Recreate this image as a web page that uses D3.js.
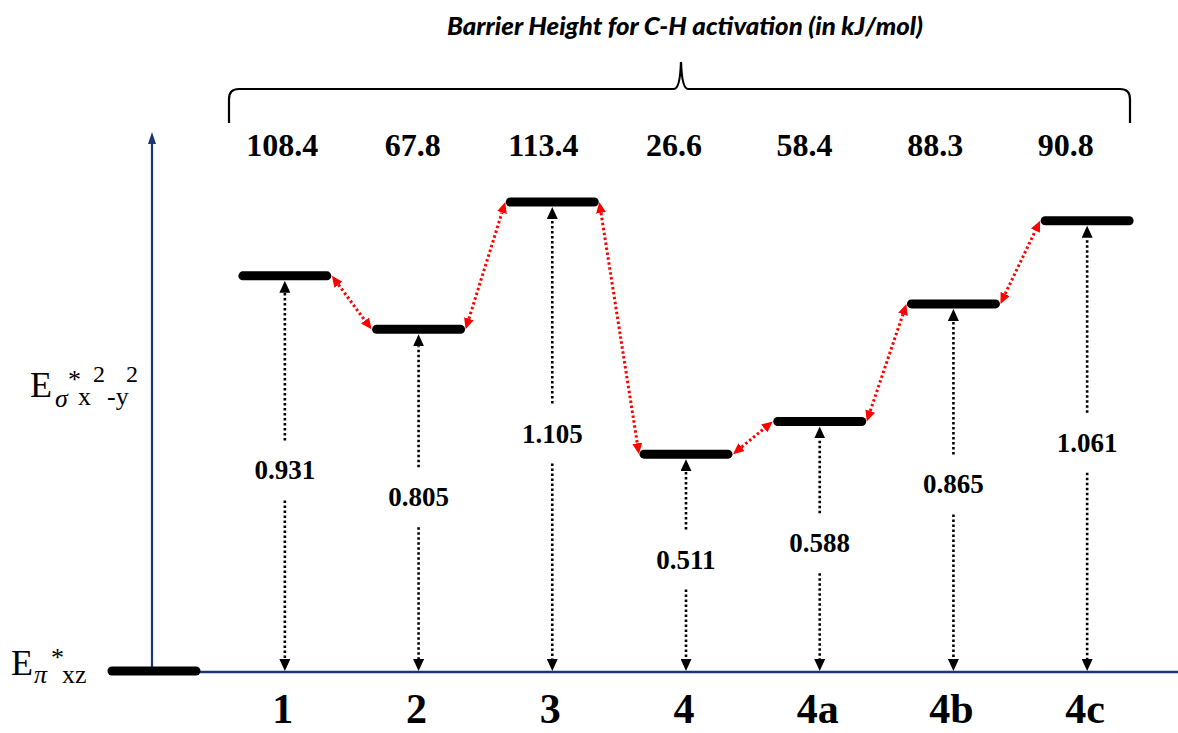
<!DOCTYPE html>
<meta charset="utf-8">
<style>
    body { margin: 0; background: #fff; }
    .num { font-family: "Liberation Serif", "Times New Roman", serif; font-weight: bold; fill: #000; }
</style>
<body>
    <svg width="1178" height="733"></svg>
</body>
<script src="https://cdnjs.cloudflare.com/ajax/libs/d3/7.8.5/d3.min.js"></script>
<script>

    // data
    var compounds = ["1", "2", "3", "4", "4a", "4b", "4c"];
    var gapValues = [0.931, 0.805, 1.105, 0.511, 0.588, 0.865, 1.061];
    var barrierValues = [108.4, 67.8, 113.4, 26.6, 58.4, 88.3, 90.8];
    var titleText = "Barrier Height for C-H activation (in kJ/mol)";

    var svg = d3.select("svg"),
        width = +svg.attr("width"),
        height = +svg.attr("height");

    var navy = "#1b3576";
    var baseY = 671;
    var halfBar = 42;

    // scales
    var x = d3.scaleBand().domain(compounds).range([218, 1154]);
    var xBarrier = d3.scaleBand().domain(compounds).range([217, 1131]);
    var y = d3.scaleLinear().domain([0, 1.27]).range([baseY, 132]);

    var levels = compounds.map(function(c, i) {
        return { name: c, gap: gapValues[i], barrier: barrierValues[i],
                 cx: x(c) + x.bandwidth() / 2, cy: y(gapValues[i]) };
    });

    // arrow markers
    var defs = svg.append("defs");
    function addMarker(id, color, w, l) {
        defs.append("marker")
            .attr("id", id)
            .attr("markerUnits", "userSpaceOnUse")
            .attr("viewBox", "0 0 " + l + " " + w)
            .attr("refX", 0)
            .attr("refY", w / 2)
            .attr("markerWidth", l)
            .attr("markerHeight", w)
            .attr("orient", "auto-start-reverse")
            .append("path")
            .attr("d", "M0,0 L" + l + "," + (w / 2) + " L0," + w + " Z")
            .attr("fill", color);
    }
    addMarker("headBlack", "#000", 11, 12);
    addMarker("headRed", "#ff0000", 10, 11);
    addMarker("headNavy", navy, 8, 12);

    // title + brace
    svg.append("text")
        .attr("x", 685)
        .attr("y", 35)
        .attr("text-anchor", "middle")
        .attr("font-family", "Lato, 'Open Sans', sans-serif")
        .attr("font-style", "italic")
        .attr("font-weight", 900)
        .attr("font-size", 24)
        .attr("textLength", 476)
        .attr("lengthAdjust", "spacingAndGlyphs")
        .text(titleText);

    var bl = 229, br = 1130, bTop = 89, bBot = 123, mid = 681;
    svg.append("path")
        .attr("d", "M" + bl + "," + bBot + " L" + bl + "," + (bTop + 10) +
            " Q" + bl + "," + bTop + " " + (bl + 10) + "," + bTop +
            " L" + (mid - 7) + "," + bTop +
            " Q" + (mid - 1) + "," + bTop + " " + mid + "," + 62 +
            " Q" + (mid + 1) + "," + bTop + " " + (mid + 7) + "," + bTop +
            " L" + (br - 10) + "," + bTop +
            " Q" + br + "," + bTop + " " + br + "," + (bTop + 10) +
            " L" + br + "," + bBot)
        .attr("fill", "none")
        .attr("stroke", "#000")
        .attr("stroke-width", 2.2);

    // barrier heights
    svg.append("g").selectAll("text")
        .data(levels)
        .enter().append("text")
        .attr("class", "num")
        .attr("x", function(d) { return xBarrier(d.name) + xBarrier.bandwidth() / 2; })
        .attr("y", 156)
        .attr("text-anchor", "middle")
        .attr("font-size", 32)
        .text(function(d) { return d3.format(".1f")(d.barrier); });

    // vertical axis with arrow, baseline
    svg.append("line")
        .attr("x1", 152).attr("x2", 152)
        .attr("y1", baseY).attr("y2", 144)
        .attr("stroke", navy).attr("stroke-width", 2.2)
        .attr("marker-end", "url(#headNavy)");

    svg.append("line")
        .attr("x1", 200).attr("x2", width)
        .attr("y1", baseY + 1).attr("y2", baseY + 1)
        .attr("stroke", navy).attr("stroke-width", 2.4);

    svg.append("line")
        .attr("x1", 112).attr("x2", 196)
        .attr("y1", baseY).attr("y2", baseY)
        .attr("stroke", "#000").attr("stroke-width", 9)
        .attr("stroke-linecap", "round");

    // axis labels
    var serif = "'Liberation Serif', 'Times New Roman', serif";
    var lab1 = svg.append("text").attr("font-family", serif).attr("fill", "#000");
    lab1.append("tspan").attr("x", 30).attr("y", 397).attr("font-size", 36).text("E");
    lab1.append("tspan").attr("x", 55).attr("y", 407).attr("font-size", 26).attr("font-style", "italic").text("σ");
    lab1.append("tspan").attr("x", 68).attr("y", 388).attr("font-size", 26).text("*");
    lab1.append("tspan").attr("x", 78).attr("y", 405).attr("font-size", 26).text("x");
    lab1.append("tspan").attr("x", 93).attr("y", 382).attr("font-size", 24).text("2");
    lab1.append("tspan").attr("x", 107).attr("y", 405).attr("font-size", 26).text("-y");
    lab1.append("tspan").attr("x", 126).attr("y", 382).attr("font-size", 24).text("2");

    var lab2 = svg.append("text").attr("font-family", serif).attr("fill", "#000");
    lab2.append("tspan").attr("x", 11).attr("y", 675).attr("font-size", 36).text("E");
    lab2.append("tspan").attr("x", 34).attr("y", 683).attr("font-size", 26).attr("font-style", "italic").text("π");
    lab2.append("tspan").attr("x", 51).attr("y", 666).attr("font-size", 26).text("*");
    lab2.append("tspan").attr("x", 62).attr("y", 683).attr("font-size", 26).text("xz");

    // red dotted connectors between neighbouring levels
    var pairs = d3.pairs(levels);
    svg.append("g").selectAll("line")
        .data(pairs)
        .enter().append("line")
        .each(function(p) {
            var x1 = p[0].cx + halfBar + 5, y1 = p[0].cy,
                x2 = p[1].cx - halfBar - 5, y2 = p[1].cy;
            var dx = x2 - x1, dy = y2 - y1, len = Math.sqrt(dx * dx + dy * dy);
            var ux = dx / len, uy = dy / len, a = 11;
            d3.select(this)
                .attr("x1", x1 + ux * a).attr("y1", y1 + uy * a)
                .attr("x2", x2 - ux * a).attr("y2", y2 - uy * a);
        })
        .attr("stroke", "#ff0000")
        .attr("stroke-width", 3)
        .attr("stroke-dasharray", "2.5,2.5")
        .attr("marker-start", "url(#headRed)")
        .attr("marker-end", "url(#headRed)");

    // vertical gap arrows (split around the value label)
    var gapG = svg.append("g");
    levels.forEach(function(d) {
        var labelY = (d.cy + baseY) / 2 - 3;
        gapG.append("line")
            .attr("x1", d.cx).attr("x2", d.cx)
            .attr("y1", labelY - 30).attr("y2", d.cy + 5 + 12)
            .attr("stroke", "#000").attr("stroke-width", 2.6)
            .attr("stroke-dasharray", "2.5,2.5")
            .attr("marker-end", "url(#headBlack)");
        gapG.append("line")
            .attr("x1", d.cx).attr("x2", d.cx)
            .attr("y1", labelY + 30).attr("y2", baseY - 12)
            .attr("stroke", "#000").attr("stroke-width", 2.6)
            .attr("stroke-dasharray", "2.5,2.5")
            .attr("marker-end", "url(#headBlack)");
        gapG.append("text")
            .attr("class", "num")
            .attr("x", d.cx)
            .attr("y", labelY + 9)
            .attr("text-anchor", "middle")
            .attr("font-size", 27)
            .text(d3.format(".3f")(d.gap));
    });

    // energy levels
    svg.append("g").selectAll("line")
        .data(levels)
        .enter().append("line")
        .attr("x1", function(d) { return d.cx - halfBar; })
        .attr("x2", function(d) { return d.cx + halfBar; })
        .attr("y1", function(d) { return d.cy; })
        .attr("y2", function(d) { return d.cy; })
        .attr("stroke", "#000")
        .attr("stroke-width", 9)
        .attr("stroke-linecap", "round");

    // compound labels
    svg.append("g").selectAll("text")
        .data(levels)
        .enter().append("text")
        .attr("class", "num")
        .attr("x", function(d) { return d.cx - 2; })
        .attr("y", 723)
        .attr("text-anchor", "middle")
        .attr("font-size", 42)
        .text(function(d) { return d.name; });

</script>
